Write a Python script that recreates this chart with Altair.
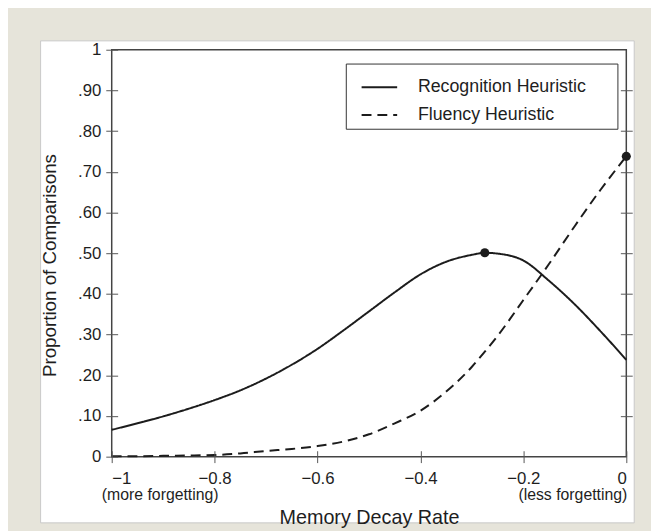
import altair as alt
import pandas as pd

# ---- data ----
decay_rate = [-1.00, -0.95, -0.90, -0.85, -0.80, -0.75, -0.70, -0.65, -0.60, -0.55,
              -0.50, -0.45, -0.40, -0.35, -0.30, -0.275, -0.25, -0.20, -0.15, -0.10,
              -0.05, 0.00]
recognition = [0.066, 0.082, 0.099, 0.118, 0.139, 0.163, 0.192, 0.226, 0.265, 0.310,
               0.357, 0.404, 0.448, 0.479, 0.496, 0.501, 0.499, 0.482, 0.432, 0.374,
               0.308, 0.238]
fluency = [0.001, 0.001, 0.002, 0.003, 0.004, 0.008, 0.014, 0.019, 0.026, 0.037,
           0.055, 0.082, 0.113, 0.160, 0.221, 0.258, 0.297, 0.385, 0.474, 0.567,
           0.656, 0.738]
series_names = ["Recognition Heuristic", "Fluency Heuristic"]

peak_x = [-0.275, 0.0]
peak_y = [0.501, 0.738]

x_ticks = [-1, -0.8, -0.6, -0.4, -0.2, 0]
y_ticks = [0, 0.1, 0.2, 0.3, 0.4, 0.5, 0.6, 0.7, 0.8, 0.9, 1]
y_ticks_right = [0.1, 0.2, 0.3, 0.4, 0.5, 0.6, 0.7, 0.8, 0.9]

note_text = ["(more forgetting)", "(less forgetting)"]
note_x = [-1, 0]

FONT = "Liberation Sans"
INK = "#1c1c1c"
TXT = "#1e1e1e"
W, H = 521, 412

# ---- tables ----
lines_df = pd.DataFrame({
    "decay": decay_rate * 2,
    "value": recognition + fluency,
    "series": [series_names[0]] * len(decay_rate) + [series_names[1]] * len(decay_rate),
})
peaks_df = pd.DataFrame({"decay": peak_x, "value": peak_y})
left_note_df = pd.DataFrame({"decay": [note_x[0]], "text": [note_text[0]]})
right_note_df = pd.DataFrame({"decay": [note_x[1]], "text": [note_text[1]]})
panel_df = pd.DataFrame({"k": [0]})

x_scale = alt.Scale(domain=[-1, 0], nice=False, zero=False)
y_scale = alt.Scale(domain=[0, 1], nice=False, zero=False)

# white inner panel (decoration)
panel = alt.Chart(panel_df).mark_rect(fill="white", stroke="#c8c8c8", strokeWidth=1).encode(
    x=alt.value(-72), x2=alt.value(529), y=alt.value(-9), y2=alt.value(479)
)
# plot frame (decoration)
frame = alt.Chart(panel_df).mark_rect(fillOpacity=0, stroke="#444", strokeWidth=1.5).encode(
    x=alt.value(0), x2=alt.value(W), y=alt.value(0), y2=alt.value(H)
)

lines = alt.Chart(lines_df).mark_line(color=INK, strokeWidth=2, interpolate="monotone").encode(
    x=alt.X("decay:Q", scale=x_scale, axis=None),
    y=alt.Y("value:Q", scale=y_scale,
            axis=alt.Axis(values=y_ticks, offset=-6, tickSize=12, domain=False, grid=False,
                          zindex=2,
                          labelExpr="datum.value == 0 ? '0' : datum.value == 1 ? '1' : replace(format(datum.value, '.2f'), '0.', '.')",
                          labelPadding=5, labelFontSize=17, labelFont=FONT, labelColor=TXT,
                          tickColor="#555", title="Proportion of Comparisons", titleFont=FONT,
                          titleFontSize=19, titleFontWeight="normal", titleColor=TXT,
                          titleX=-69, titleY=218, titleAlign="center", titleBaseline="middle")),
    strokeDash=alt.StrokeDash(
        "series:N",
        scale=alt.Scale(domain=series_names, range=[[1, 0], [10, 6]]),
        legend=alt.Legend(title="MMM", titleOrient="right", titleFontSize=10,
                          titleColor="rgba(0,0,0,0)", titlePadding=2,
                          orient="none", legendX=237, legendY=14, zindex=3,
                          symbolType="stroke", symbolSize=1296, symbolStrokeWidth=2,
                          symbolStrokeColor=INK, symbolOffset=10, labelFont=FONT,
                          labelFontSize=18, labelColor=TXT, labelOffset=20, labelLimit=400,
                          padding=5, rowPadding=0, strokeColor="#333", fillColor="white"),
    ),
    detail="series:N",
)

points = alt.Chart(peaks_df).mark_circle(color=INK, size=85, opacity=1).encode(
    x=alt.X("decay:Q", scale=x_scale, axis=None),
    y=alt.Y("value:Q", scale=y_scale, axis=None),
)

left_note = alt.Chart(left_note_df).mark_text(
    align="left", baseline="middle", dx=-10, font=FONT, fontSize=16, color=TXT
).encode(x=alt.X("decay:Q", scale=x_scale, axis=None), y=alt.value(451), text="text:N")

right_note = alt.Chart(right_note_df).mark_text(
    align="right", baseline="middle", dx=1, font=FONT, fontSize=16, color=TXT
).encode(x=alt.X("decay:Q", scale=x_scale, axis=None), y=alt.value(451), text="text:N")

axes_layer = alt.Chart(peaks_df).mark_point(opacity=0).encode(
    x=alt.X("decay:Q", scale=x_scale,
            axis=alt.Axis(orient="bottom", values=x_ticks, format="~g", offset=-6, tickSize=12,
                          zindex=2, domain=False, grid=False, labelPadding=8, labelFontSize=17,
                          labelFont=FONT, labelColor=TXT, tickColor="#555",
                          title="Memory Decay Rate", titleFont=FONT, titleFontSize=20,
                          titleFontWeight="normal", titleColor=TXT,
                          titleY=68, titleBaseline="middle")),
    y=alt.Y("value:Q", scale=y_scale,
            axis=alt.Axis(orient="right", values=y_ticks_right, offset=-6, tickSize=12,
                          labels=False, domain=False, grid=False, title=None, zindex=2,
                          tickColor="#555")),
)

chart = alt.layer(panel, frame, lines, points, left_note, right_note, axes_layer).resolve_scale(
    y="shared", x="shared"
).resolve_axis(y="independent", x="independent").properties(
    width=W, height=H,
    padding={"left": 105, "top": 39, "right": 25, "bottom": 72},
    autosize=alt.AutoSizeParams(type="none"),
    background="#e6e4da",
).configure_view(stroke=None)

chart.save("out.html", embed_options={"renderer": "svg", "actions": False})
